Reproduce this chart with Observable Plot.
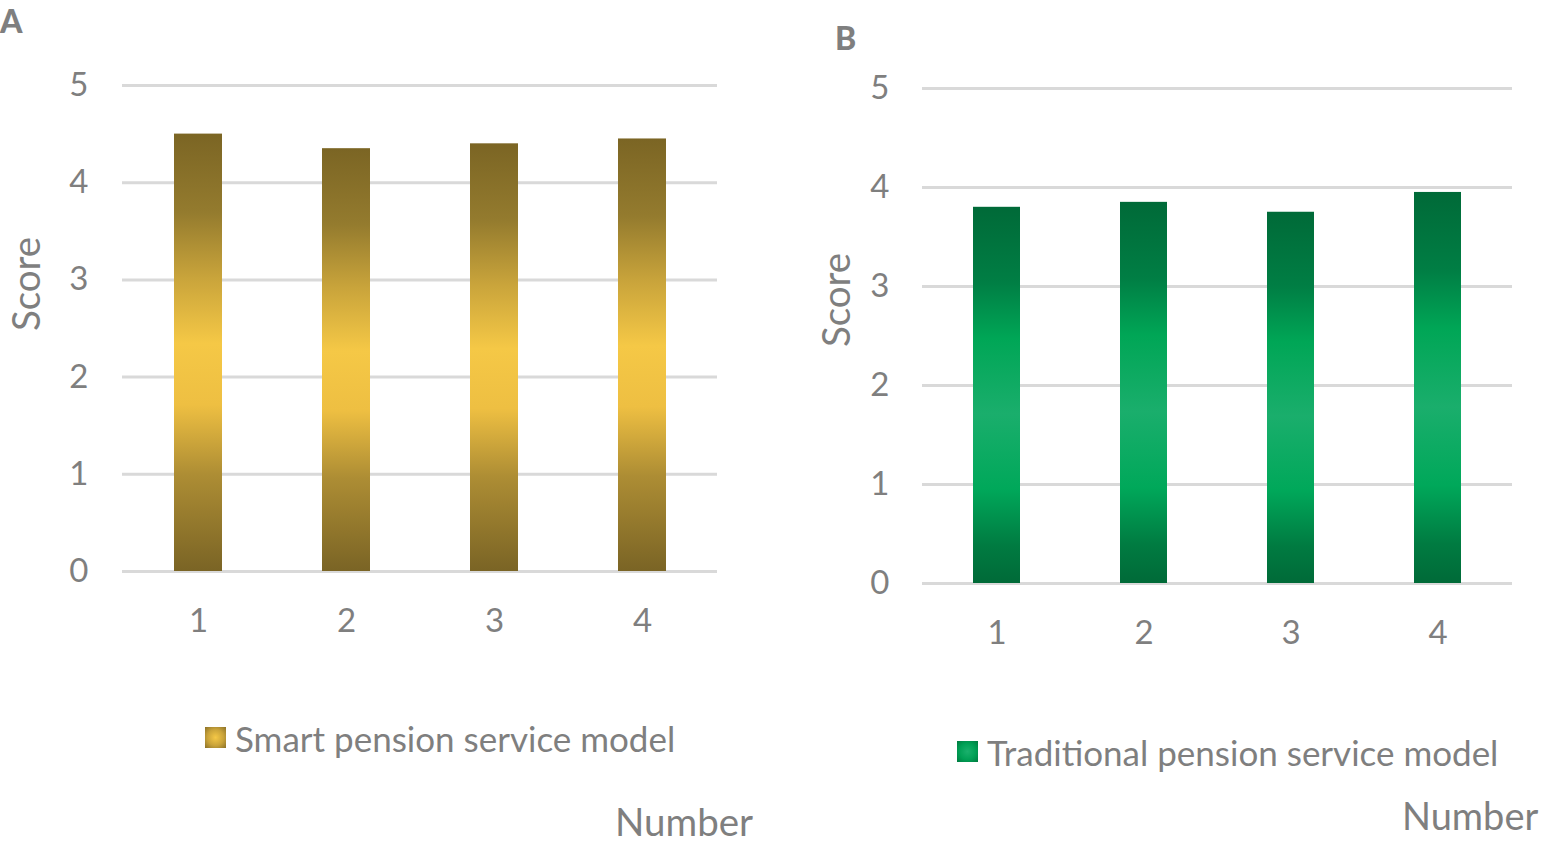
<!DOCTYPE html>
<html><head><meta charset="utf-8">
<script src="https://cdn.jsdelivr.net/npm/d3@7"></script>
<script src="https://cdn.jsdelivr.net/npm/@observablehq/plot@0.6"></script>
<style>
body{margin:0;background:#fff;}
#root{position:relative;width:1542px;height:846px;overflow:hidden;font-family:Lato,sans-serif;color:#7f7f7f;}
.abs{position:absolute;white-space:nowrap;line-height:1;}
.panel{position:absolute;top:0;}
.sw{position:absolute;width:21px;height:21px;}
</style></head><body><div id="root"></div>
<script>
// ---- data ----
const numbers = ["1", "2", "3", "4"];
const smartScores = [4.5, 4.35, 4.4, 4.45];
const traditionalScores = [3.8, 3.85, 3.75, 3.95];
const yTicks = [0, 1, 2, 3, 4, 5];
const seriesNames = ["Smart pension service model", "Traditional pension service model"];
const panelLetters = ["A", "B"];
const yLabel = "Score";
const xLabel = "Number";

const goldStops = [[0,"#7b6524"],[0.18,"#947b2e"],[0.33,"#c9a43b"],[0.48,"#f5c846"],[0.62,"#eebf42"],[0.78,"#ad8d34"],[1,"#7a6425"]];
const greenStops = [[0,"#006a38"],[0.2,"#007e44"],[0.35,"#00a656"],[0.55,"#1aae6c"],[0.75,"#00a85a"],[0.9,"#007b41"],[1,"#006a38"]];

function gradientMark(id, stops) {
  return () => {
    const defs = d3.create("svg:defs");
    const g = defs.append("linearGradient").attr("id", id).attr("x1", 0).attr("y1", 0).attr("x2", 0).attr("y2", 1);
    for (const [o, c] of stops) g.append("stop").attr("offset", o).attr("stop-color", c);
    return defs.node();
  };
}

function panel({values, gradId, stops, width, height, marginLeft, marginRight, marginTop, marginBottom, padIn, yPad, xPad}) {
  const data = numbers.map((n, i) => ({n, v: values[i]}));
  return Plot.plot({
    width, height, marginLeft, marginRight, marginTop, marginBottom,
    style: {fontFamily: "Lato, sans-serif", fontSize: "33px", color: "#7f7f7f", background: "transparent", overflow: "visible"},
    x: {domain: numbers, paddingInner: padIn, paddingOuter: padIn / 2, label: null},
    y: {domain: [0, 5], label: null},
    marks: [
      gradientMark(gradId, stops),
      Plot.ruleY(yTicks, {stroke: "#d9d9d9", strokeWidth: 3}),
      Plot.barY(data, {x: "n", y: "v", fill: `url(#${gradId})`}),
      Plot.axisY({ticks: yTicks, tickFormat: d3.format("d"), tickSize: 0, tickPadding: yPad, label: null, fontSize: 33, fill: "#7f7f7f"}),
      Plot.axisX({tickSize: 0, tickPadding: xPad, label: null, fontSize: 33, fill: "#7f7f7f"})
    ]
  });
}

const root = document.getElementById("root");

const a = panel({values: smartScores, gradId: "gradA", stops: goldStops, width: 740, height: 680,
  marginLeft: 122, marginRight: 23, marginTop: 85, marginBottom: 109, padIn: 0.677, yPad: 34, xPad: 37});
a.classList.add("panel"); a.style.left = "0px";
root.appendChild(a);

const b = panel({values: traditionalScores, gradId: "gradB", stops: greenStops, width: 760, height: 690,
  marginLeft: 142, marginRight: 28, marginTop: 88, marginBottom: 107, padIn: 0.68, yPad: 33, xPad: 37});
b.classList.add("panel"); b.style.left = "780px";
root.appendChild(b);

function addText(txt, left, cy, size, extra = {}) {
  const d = document.createElement("div");
  d.className = "abs";
  d.textContent = txt;
  d.style.left = left + "px";
  d.style.top = cy + "px";
  d.style.fontSize = size + "px";
  d.style.transform = "translateY(-50%)";
  Object.assign(d.style, extra);
  root.appendChild(d);
  return d;
}

// panel letters
addText(panelLetters[0], 0, 21, 32, {fontWeight: "900"});
addText(panelLetters[1], 835, 38, 32, {fontWeight: "900"});

// y labels (rotated)
addText(yLabel, 25, 284, 38.5, {transform: "translate(-50%,-50%) rotate(-90deg)"});
addText(yLabel, 835, 300, 38.5, {transform: "translate(-50%,-50%) rotate(-90deg)"});

// legends
function swatch(left, top, inner, mid, outer) {
  const s = document.createElement("div");
  s.className = "sw";
  s.style.left = left + "px"; s.style.top = top + "px";
  s.style.background = `radial-gradient(circle, ${inner} 0%, ${mid} 55%, ${outer} 100%)`;
  root.appendChild(s);
}
swatch(205, 727, "#f5c846", "#c9a33a", "#8a7028");
addText(seriesNames[0], 235, 738, 35);
swatch(957, 741, "#1ab06c", "#00a055", "#007a40");
addText(seriesNames[1], 987, 752, 35);

// x labels
addText(xLabel, 615, 821, 38.5);
addText(xLabel, 1402, 815, 38);
</script></body></html>
